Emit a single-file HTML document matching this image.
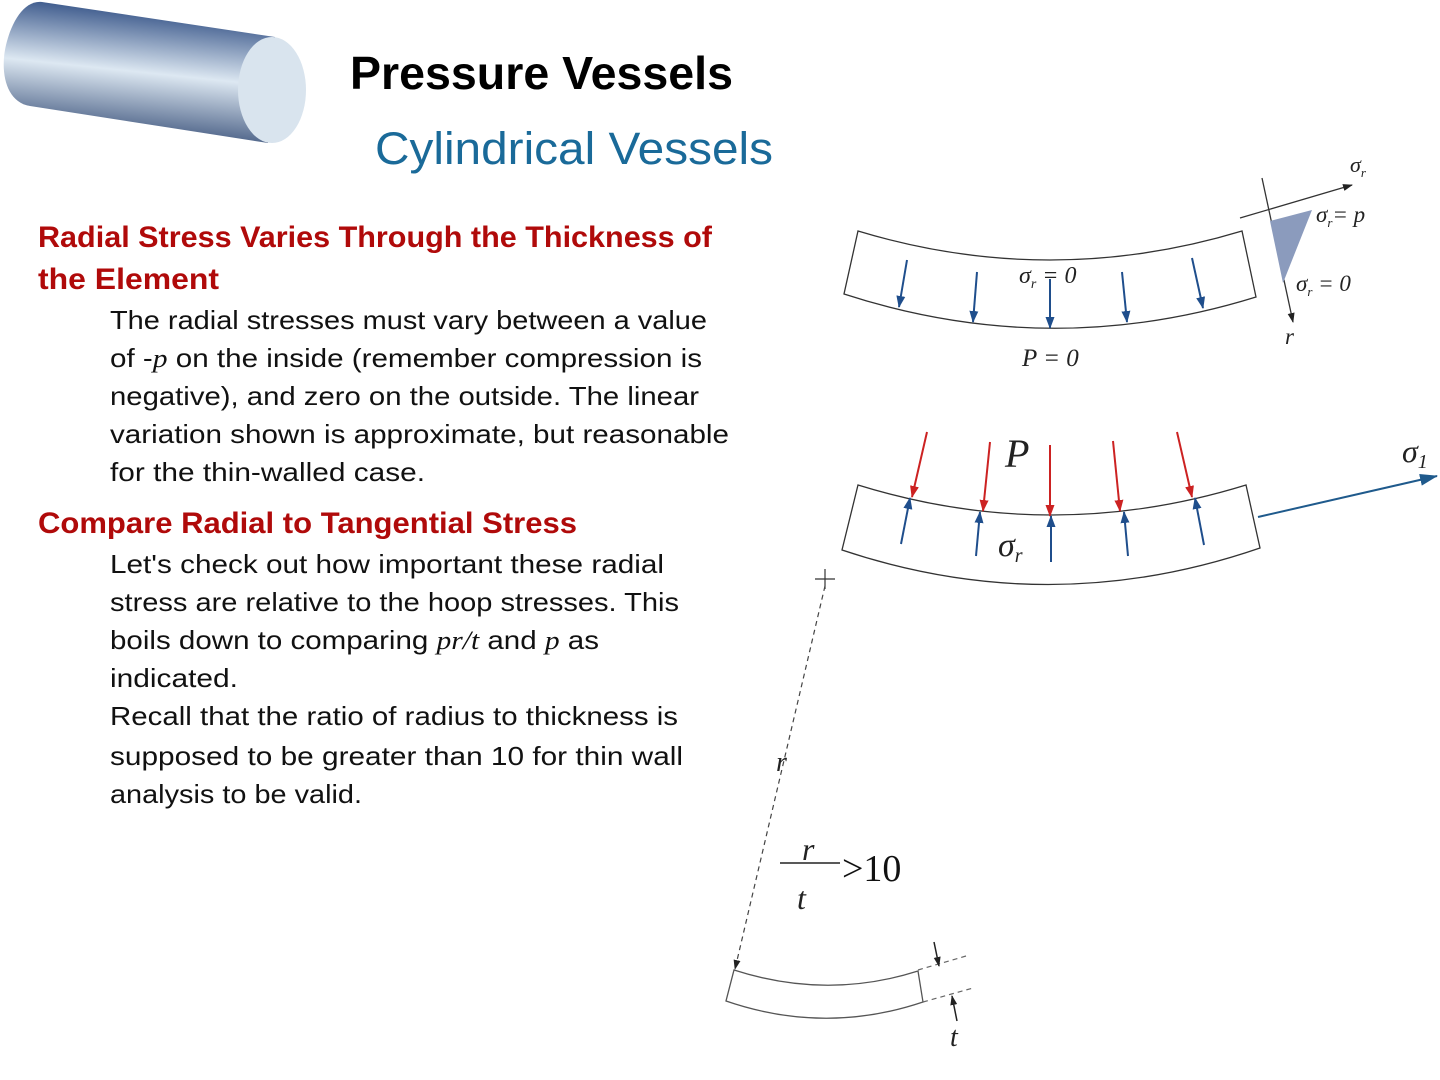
<!DOCTYPE html>
<html><head><meta charset="utf-8"><style>html,body{margin:0;padding:0;background:#fff}svg{display:block}</style></head><body>
<svg width="1440" height="1080" viewBox="0 0 1440 1080" xmlns="http://www.w3.org/2000/svg">
<defs>
<linearGradient id="cyl" x1="0.2" y1="0" x2="0" y2="1">
<stop offset="0" stop-color="#3d5a8c"/><stop offset="0.42" stop-color="#dde8f2"/><stop offset="1" stop-color="#142e5e"/>
</linearGradient>
<marker id="ab" markerWidth="12" markerHeight="12" refX="11" refY="6" orient="auto" markerUnits="userSpaceOnUse"><path d="M0,1.5 L12,6 L0,10.5 z" fill="#1f4e8c"/></marker>
<marker id="ar" markerWidth="12" markerHeight="12" refX="11" refY="6" orient="auto" markerUnits="userSpaceOnUse"><path d="M0,1.5 L12,6 L0,10.5 z" fill="#cc2222"/></marker>
<marker id="ak" markerWidth="10" markerHeight="10" refX="9" refY="5" orient="auto" markerUnits="userSpaceOnUse"><path d="M0,1.5 L10,5 L0,8.5 z" fill="#222"/></marker>
<marker id="abig" markerWidth="18" markerHeight="14" refX="17" refY="7" orient="auto" markerUnits="userSpaceOnUse"><path d="M0,1 L18,7 L0,13 z" fill="#1f5a8c"/></marker>
</defs>
<!-- cylinder -->
<path d="M42,2 L275,37 L268,143 L30,106 C5,102 0,70 6,45 C12,20 25,0 42,2 z" fill="url(#cyl)"/>
<ellipse cx="272" cy="90" rx="34" ry="53" fill="#d9e4ee"/>
<text x="350" y="89" font-family="Liberation Sans, sans-serif" font-weight="bold" font-size="46" textLength="383" lengthAdjust="spacingAndGlyphs">Pressure Vessels</text>
<text x="375" y="164" font-family="Liberation Sans, sans-serif" font-size="45" fill="#1a6a99" textLength="398" lengthAdjust="spacingAndGlyphs">Cylindrical Vessels</text>
<g font-family="Liberation Sans, sans-serif" font-weight="bold" font-size="30" fill="#b00a0a">
<text x="38" y="247" textLength="674" lengthAdjust="spacingAndGlyphs">Radial Stress Varies Through the Thickness of</text>
<text x="38" y="289" textLength="181" lengthAdjust="spacingAndGlyphs">the Element</text>
<text x="38" y="533" textLength="539" lengthAdjust="spacingAndGlyphs">Compare Radial to Tangential Stress</text>
</g>
<g font-family="Liberation Sans, sans-serif" font-size="26" fill="#111">
<text x="110" y="329" textLength="597" lengthAdjust="spacingAndGlyphs">The radial stresses must vary between a value</text>
<text x="110" y="367" textLength="592" lengthAdjust="spacingAndGlyphs">of -<tspan font-family="Liberation Serif, serif" font-style="italic">p</tspan> on the inside (remember compression is</text>
<text x="110" y="405" textLength="589" lengthAdjust="spacingAndGlyphs">negative), and zero on the outside. The linear</text>
<text x="110" y="443" textLength="619" lengthAdjust="spacingAndGlyphs">variation shown is approximate, but reasonable</text>
<text x="110" y="481" textLength="315" lengthAdjust="spacingAndGlyphs">for the thin-walled case.</text>
<text x="110" y="573" textLength="554" lengthAdjust="spacingAndGlyphs">Let's check out how important these radial</text>
<text x="110" y="611" textLength="569" lengthAdjust="spacingAndGlyphs">stress are relative to the hoop stresses. This</text>
<text x="110" y="649" textLength="489" lengthAdjust="spacingAndGlyphs">boils down to comparing <tspan font-family="Liberation Serif, serif" font-style="italic">pr/t</tspan> and <tspan font-family="Liberation Serif, serif" font-style="italic">p</tspan> as</text>
<text x="110" y="687" textLength="128" lengthAdjust="spacingAndGlyphs">indicated.</text>
<text x="110" y="725" textLength="568" lengthAdjust="spacingAndGlyphs">Recall that the ratio of radius to thickness is</text>
<text x="110" y="765" textLength="573" lengthAdjust="spacingAndGlyphs">supposed to be greater than 10 for thin wall</text>
<text x="110" y="803" textLength="252" lengthAdjust="spacingAndGlyphs">analysis to be valid.</text>
</g>
<!-- top element -->
<g fill="none" stroke="#333" stroke-width="1.3">
<path d="M858,231 Q1050,289 1242,231 L1256,297 Q1050,361 844,294 Z"/>
<path d="M1262,178 L1293,322" marker-end="url(#ak)"/>
<path d="M1240,218 L1352,185" marker-end="url(#ak)"/>
</g>
<polygon points="1270,221 1312,210 1283,283" fill="#8b9bbd"/>
<g stroke="#1f4e8c" stroke-width="2" marker-end="url(#ab)">
<line x1="907" y1="260" x2="899" y2="307"/><line x1="977" y1="272" x2="973" y2="322"/>
<line x1="1050" y1="279" x2="1050" y2="328"/><line x1="1122" y1="272" x2="1127" y2="322"/>
<line x1="1192" y1="258" x2="1203" y2="308"/>
</g>
<g font-family="Liberation Serif, serif" font-style="italic" fill="#222">
<text x="1019" y="283" font-size="24">σ<tspan font-size="14" dy="5">r</tspan><tspan dy="-5"> = 0</tspan></text>
<text x="1022" y="366" font-size="25">P = 0</text>
<text x="1350" y="172" font-size="22">σ<tspan font-size="13" dy="5">r</tspan></text>
<text x="1316" y="222" font-size="23">σ<tspan font-size="13" dy="5">r</tspan><tspan dy="-5">= p</tspan></text>
<text x="1296" y="291" font-size="23">σ<tspan font-size="13" dy="5">r</tspan><tspan dy="-5"> = 0</tspan></text>
<text x="1285" y="344" font-size="23">r</text>
</g>
<!-- middle element -->
<path d="M858,485 Q1052,545 1246,485 L1260,548 Q1051,620 842,550 Z" fill="none" stroke="#333" stroke-width="1.3"/>
<g stroke="#cc2222" stroke-width="2" marker-end="url(#ar)">
<line x1="927" y1="432" x2="912" y2="497"/><line x1="990" y1="442" x2="983" y2="511"/>
<line x1="1050" y1="445" x2="1050" y2="516"/><line x1="1113" y1="441" x2="1120" y2="511"/>
<line x1="1177" y1="432" x2="1192" y2="497"/>
</g>
<g stroke="#1f4e8c" stroke-width="2" marker-end="url(#ab)">
<line x1="901" y1="544" x2="910" y2="498"/><line x1="976" y1="556" x2="980" y2="512"/>
<line x1="1051" y1="562" x2="1051" y2="516"/><line x1="1128" y1="556" x2="1124" y2="512"/>
<line x1="1204" y1="545" x2="1195" y2="498"/>
</g>
<line x1="1258" y1="517" x2="1437" y2="476" stroke="#1f5a8c" stroke-width="2" marker-end="url(#abig)"/>
<g font-family="Liberation Serif, serif" font-style="italic" fill="#222">
<text x="1005" y="467" font-size="40">P</text>
<text x="998" y="556" font-size="34">σ<tspan font-size="20" dy="6">r</tspan></text>
<text x="1402" y="462" font-size="32">σ<tspan font-size="20" dy="6">1</tspan></text>
<text x="776" y="771" font-size="28">r</text>
<text x="802" y="860" font-size="32">r</text>
<text x="797" y="909" font-size="32">t</text>
<text x="950" y="1046" font-size="28">t</text>
</g>
<text x="842" y="881" font-family="Liberation Serif, serif" font-size="38" fill="#111">&gt;10</text>
<line x1="780" y1="863" x2="840" y2="863" stroke="#222" stroke-width="1.5"/>
<!-- plus & dashed radius -->
<g stroke="#333" stroke-width="1.2">
<line x1="815" y1="579" x2="835" y2="579"/><line x1="825" y1="569" x2="825" y2="589"/>
</g>
<line x1="825" y1="586" x2="735" y2="969" stroke="#444" stroke-width="1.2" stroke-dasharray="5,4" marker-end="url(#ak)"/>
<!-- bottom element -->
<path d="M734,970 Q827,1000 918,971 L923,1002 Q825,1035 726,1001 Z" fill="none" stroke="#555" stroke-width="1.3"/>
<g stroke="#666" stroke-width="1.2" stroke-dasharray="5,4">
<line x1="918" y1="970" x2="966" y2="956"/><line x1="923" y1="1002" x2="973" y2="988"/>
</g>
<g stroke="#222" stroke-width="1.5" marker-end="url(#ak)">
<line x1="934" y1="942" x2="939" y2="966"/><line x1="957" y1="1021" x2="952" y2="996"/>
</g>
</svg>
</body></html>
